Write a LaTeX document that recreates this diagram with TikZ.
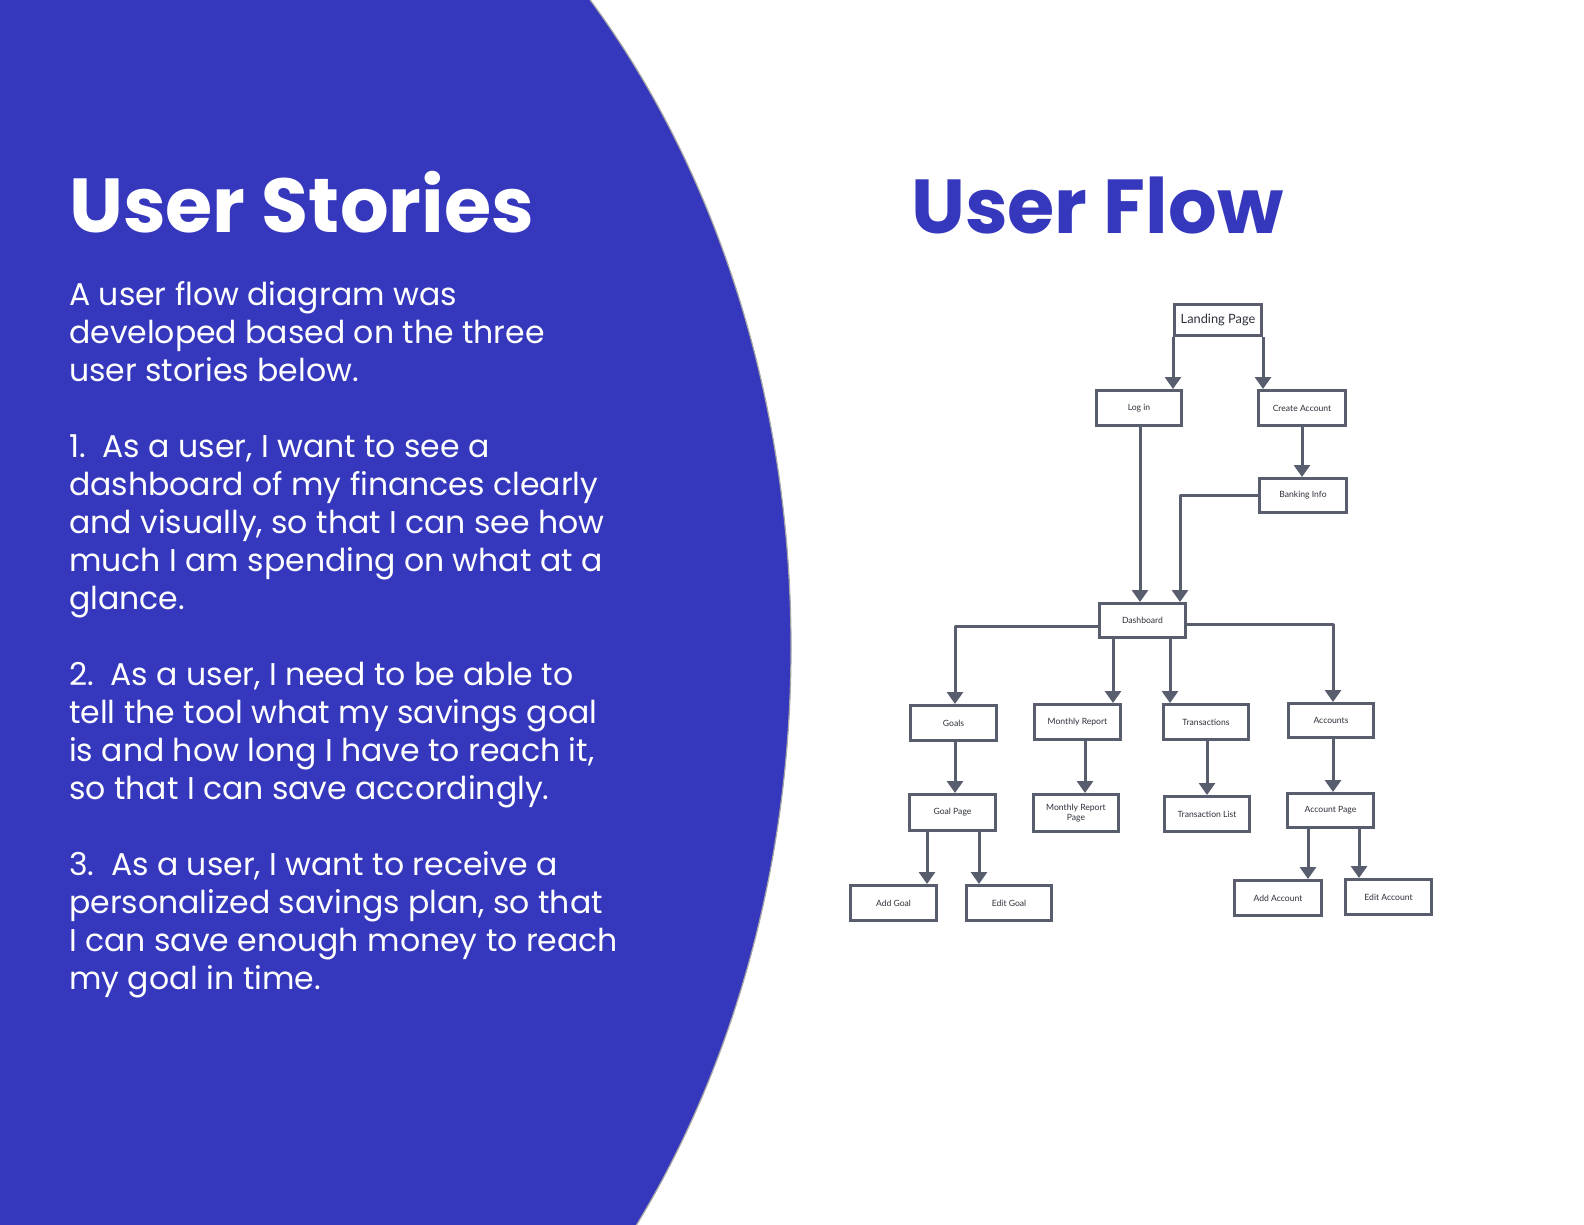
\documentclass[tikz,border=0pt]{standalone}
\usepackage{fontspec}
\usetikzlibrary{arrows.meta}
\newfontfamily\popfont{Poppins}
\newfontfamily\boxfont{Lato}
\definecolor{brandblue}{RGB}{53,56,189}
\definecolor{flowgray}{RGB}{88,94,110}
\definecolor{boxtext}{RGB}{45,49,58}
\tikzset{
  fbox/.style={draw=flowgray, line width=3pt, fill=white, minimum width=85pt,
    minimum height=35pt, inner sep=1pt, text=boxtext, align=center,
    font=\boxfont\fontsize{8.6}{9.8}\selectfont},
  arr/.style={draw=flowgray, line width=3pt, line join=round,
    -{Triangle[width=16pt,length=12pt]}},
  body/.style={anchor=base west, inner sep=0pt, text=white,
    font=\popfont\fontsize{31.5}{36}\selectfont},
  ttl/.style={anchor=base west, inner sep=0pt,
    font=\popfont\bfseries\fontsize{76.5}{84}\selectfont}
}
\begin{document}
\begin{tikzpicture}[x=1pt,y=-1pt]
\useasboundingbox (0,0) rectangle (1584,1224);
\begin{scope}
\clip (0,0) rectangle (1584,1224);
\fill[brandblue] (65,647) ellipse [x radius=726, y radius=937];
\draw[gray!70, line width=1.2pt] (65,647) ellipse [x radius=726, y radius=937];
\end{scope}

% left text
\node[ttl, text=white] (t1) at (69,232) {User Stories};
\node[body] (l1) at (69,305) {A user flow diagram was};
\node[body] (l2) at (69,343) {developed based on the three};
\node[body] (l3) at (69,381) {user stories below.};
\node[body] (l4) at (69,457) {1.\ \ As a user, I want to see a};
\node[body] (l5) at (69,495) {dashboard of my finances clearly};
\node[body] (l6) at (69,533) {and visually, so that I can see how};
\node[body] (l7) at (69,571) {much I am spending on what at a};
\node[body] (l8) at (69,609) {glance.};
\node[body] (l9) at (69,685) {2.\ \ As a user, I need to be able to};
\node[body] (l10) at (69,723) {tell the tool what my savings goal};
\node[body] (l11) at (69,761) {is and how long I have to reach it,};
\node[body] (l12) at (69,799) {so that I can save accordingly.};
\node[body] (l13) at (69,875) {3.\ \ As a user, I want to receive a};
\node[body] (l14) at (69,913) {personalized savings plan, so that};
\node[body] (l15) at (69,951) {I can save enough money to reach};
\node[body] (l16) at (69,989) {my goal in time.};

% right title
\node[ttl, text=brandblue] (t2) at (911,233) {User Flow};

% boxes
\node[fbox, minimum width=87pt, minimum height=31pt,
  font=\boxfont\fontsize{12.8}{14}\selectfont] (landing) at (1218,320) {Landing Page};
\node[fbox] (login) at (1139,408) {Log in};
\node[fbox, minimum width=87pt] (create) at (1302,408) {Create Account};
\node[fbox, minimum width=87pt, minimum height=34pt] (banking) at (1303,495.5) {Banking Info};
\node[fbox, minimum width=86pt, minimum height=34pt] (dash) at (1142.5,620.5) {Dashboard};
\node[fbox, minimum width=86pt] (goals) at (953.5,723) {Goals};
\node[fbox, minimum width=86pt] (monthly) at (1077.5,722) {Monthly Report};
\node[fbox] (trans) at (1206,722) {Transactions};
\node[fbox, minimum height=34pt] (accounts) at (1331,720.5) {Accounts};
\node[fbox, minimum width=86pt, minimum height=36pt] (goalpage) at (952.5,812.5) {Goal Page};
\node[fbox, minimum height=37pt] (mrpage) at (1076,813) {Monthly Report\\Page};
\node[fbox] (translist) at (1207,814) {Transaction List};
\node[fbox, minimum width=86pt, minimum height=34pt] (accpage) at (1330.5,810.5) {Account Page};
\node[fbox, minimum width=86pt] (addgoal) at (893.5,903) {Add Goal};
\node[fbox] (editgoal) at (1009,903) {Edit Goal};
\node[fbox, minimum width=87pt] (addacc) at (1278,898) {Add Account};
\node[fbox, minimum width=86pt] (editacc) at (1388.5,897) {Edit Account};

% connectors
\draw[arr] (landing.south west) -- (landing.south west |- login.north);
\draw[arr] (landing.south east) -- (landing.south east |- create.north);
\draw[arr] ([xshift=1pt]login.south) -- ([xshift=1pt]login.south |- dash.north);
\draw[arr] (create.south) -- (create.south |- banking.north);
\draw[arr] (banking.west) -| ([xshift=37.5pt]dash.north);
\draw[arr] ([yshift=-6pt]dash.west) -| ([xshift=1.5pt]goals.north);
\draw[arr] ([xshift=-29.5pt]dash.south) -- ([xshift=-29.5pt]dash.south |- monthly.north);
\draw[arr] ([xshift=27.5pt]dash.south) -- ([xshift=27.5pt]dash.south |- trans.north);
\draw[arr] ([yshift=-3.5pt]dash.east) -| ([xshift=2pt]accounts.north);
\draw[arr] ([xshift=1.5pt]goals.south) -- ([xshift=1.5pt]goals.south |- goalpage.north);
\draw[arr] ([xshift=7.5pt]monthly.south) -- ([xshift=7.5pt]monthly.south |- mrpage.north);
\draw[arr] ([xshift=1pt]trans.south) -- ([xshift=1pt]trans.south |- translist.north);
\draw[arr] ([xshift=2pt]accounts.south) -- ([xshift=2pt]accounts.south |- accpage.north);
\draw[arr] ([xshift=-25.5pt]goalpage.south) -- ([xshift=-25.5pt]goalpage.south |- addgoal.north);
\draw[arr] ([xshift=26.5pt]goalpage.south) -- ([xshift=26.5pt]goalpage.south |- editgoal.north);
\draw[arr] ([xshift=-22.5pt]accpage.south) -- ([xshift=-22.5pt]accpage.south |- addacc.north);
\draw[arr] ([xshift=28.5pt]accpage.south) -- ([xshift=28.5pt]accpage.south |- editacc.north);
\end{tikzpicture}
\end{document}
